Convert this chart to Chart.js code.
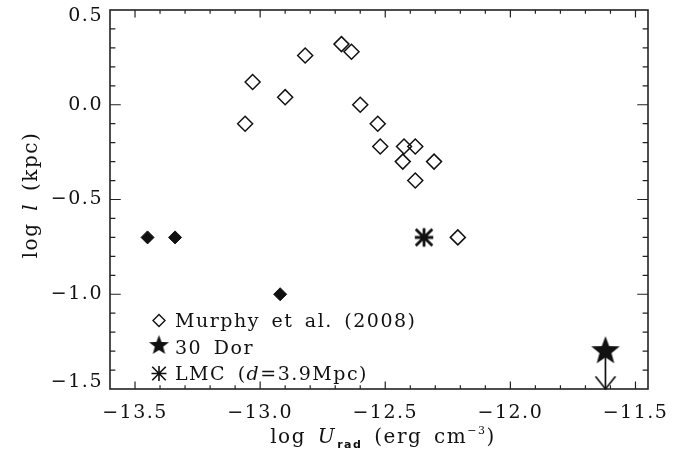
<!DOCTYPE html>
<html>
<head>
<meta charset="utf-8">
<script src="https://cdn.jsdelivr.net/npm/chart.js@4.4.1/dist/chart.umd.min.js"></script>
<style>
html,body{margin:0;padding:0;background:#fff;}
#wrap{width:689px;height:458px;position:relative;}
</style>
</head>
<body>
<div id="wrap"><canvas id="c" width="689" height="458"></canvas></div>
<script>
// ---- data ----
const murphyX = [-13.06, -13.03, -12.90, -12.82, -12.675, -12.635, -12.60, -12.53, -12.52, -12.425, -12.38, -12.43, -12.305, -12.38, -12.21];
const murphyY = [-0.10, 0.12, 0.04, 0.26, 0.32, 0.28, 0.00, -0.10, -0.22, -0.22, -0.22, -0.30, -0.30, -0.40, -0.70];
const filledX = [-13.45, -13.34, -12.92];
const filledY = [-0.70, -0.70, -1.00];
const lmcX = [-12.345];
const lmcY = [-0.70];
const dorX = [-11.62];
const dorY = [-1.30];
const xTicks = [-13.5, -13.0, -12.5, -12.0, -11.5];
const yTicks = [0.5, 0.0, -0.5, -1.0, -1.5];
const xRange = [-13.6, -11.45];
const yRange = [-1.5, 0.5];
const minorStep = 0.1;
const legendLabels = ['Murphy et al. (2008)', '30 Dor', 'LMC (d=3.9Mpc)'];

const SERIF = "'DejaVu Serif', serif";
const INK = '#111';

function pts(xs, ys) { return xs.map((x, i) => ({x: x, y: ys[i]})); }
function fmt(v) { return (v < -1e-9 ? '\u2212' : '') + Math.abs(v).toFixed(1); }

function makeStar(R, ratio) {
  const s = Math.ceil(R * 2 + 4);
  const c = document.createElement('canvas');
  c.width = s; c.height = s;
  const g = c.getContext('2d');
  g.fillStyle = INK;
  g.beginPath();
  for (let i = 0; i < 10; i++) {
    const r = i % 2 === 0 ? R : R * ratio;
    const a = -Math.PI / 2 + i * Math.PI / 5;
    const px = s / 2 + r * Math.cos(a), py = s / 2 + r * Math.sin(a);
    if (i === 0) g.moveTo(px, py); else g.lineTo(px, py);
  }
  g.closePath();
  g.fill();
  return c;
}
function drawAsterisk(g, x, y, r, lw) {
  g.save();
  g.strokeStyle = INK; g.lineWidth = lw; g.lineCap = 'butt';
  const d = r * 0.9;
  g.beginPath();
  g.moveTo(x, y - r); g.lineTo(x, y + r);
  g.moveTo(x - r, y); g.lineTo(x + r, y);
  g.moveTo(x - d, y - d); g.lineTo(x + d, y + d);
  g.moveTo(x + d, y - d); g.lineTo(x - d, y + d);
  g.stroke();
  g.restore();
}
function makeAsterisk(r, lw) {
  const s = Math.ceil(r * 2 + lw + 4);
  const c = document.createElement('canvas');
  c.width = s; c.height = s;
  drawAsterisk(c.getContext('2d'), s / 2, s / 2, r, lw);
  return c;
}
function makeArrowHead(w, h, lw) {
  const s = Math.ceil(Math.max(w, h * 2) + 6);
  const c = document.createElement('canvas');
  c.width = s; c.height = s;
  const g = c.getContext('2d');
  g.strokeStyle = INK; g.lineWidth = lw; g.lineCap = 'round';
  g.beginPath();
  g.moveTo(s / 2 - w / 2, s / 2 - h);
  g.lineTo(s / 2, s / 2);
  g.lineTo(s / 2 + w / 2, s / 2 - h);
  g.stroke();
  return c;
}

const starImg = makeStar(15, 0.42);
const legendStarImg = makeStar(10.5, 0.42);
const asteriskImg = makeAsterisk(9.2, 2.8);
const arrowImg = makeArrowHead(19, 12, 1.7);

function segFont(s) {
  return (s.italic ? 'italic ' : '') + (s.bold ? 'bold ' : '') + (s.size || 20) + 'px ' + (s.family || SERIF);
}
function drawRich(ctx, segs, x, y, align) {
  let w = 0;
  for (const s of segs) { ctx.font = segFont(s); w += ctx.measureText(s.t).width + (s.gap || 0); }
  let cx = align === 'center' ? x - w / 2 : x;
  for (const s of segs) {
    ctx.font = segFont(s);
    ctx.fillText(s.t, cx, y + (s.dy || 0));
    cx += ctx.measureText(s.t).width + (s.gap || 0);
  }
}

const spacing = {
  id: 'spacing',
  beforeUpdate(chart) { chart.ctx.letterSpacing = '1.5px'; chart.ctx.wordSpacing = '4px'; },
  beforeDraw(chart) {
    chart.ctx.letterSpacing = '1.5px'; chart.ctx.wordSpacing = '4px';
    // the extreme y labels sit inside the frame in the reference
    const ys = chart.scales.y;
    const items = ys.getLabelItems(chart.chartArea);
    items.forEach(it => {
      const t = it.options.translation;
      if (it.label === fmt(yRange[1])) t[1] += 6.5;
      if (it.label === fmt(yRange[0])) t[1] -= 6.5;
    });
  }
};

const frameTicks = {
  id: 'frameTicks',
  beforeDatasetsDraw(chart) {
    const {ctx, chartArea: a, scales: {x, y}} = chart;
    ctx.save();
    ctx.strokeStyle = '#222';
    ctx.lineWidth = 1.6;
    ctx.strokeRect(a.left, a.top, a.right - a.left, a.bottom - a.top);
    const w = a.right - a.left, h = a.bottom - a.top;
    const xMaj = h * 0.02, yMaj = w * 0.02;
    ctx.lineWidth = 1.2;
    ctx.beginPath();
    const n = Math.round(1 / minorStep);
    for (let k = Math.ceil(x.min * n - 1e-6); k <= Math.floor(x.max * n + 1e-6); k++) {
      const px = x.getPixelForValue(k / n);
      if (px <= a.left + 1 || px >= a.right - 1) continue;
      const major = xTicks.some(t => Math.abs(t - k / n) < 1e-6);
      const len = major ? xMaj : xMaj / 2;
      ctx.moveTo(px, a.bottom); ctx.lineTo(px, a.bottom - len);
      ctx.moveTo(px, a.top); ctx.lineTo(px, a.top + len);
    }
    for (let k = Math.ceil(y.min * n - 1e-6); k <= Math.floor(y.max * n + 1e-6); k++) {
      const py = y.getPixelForValue(k / n);
      if (py <= a.top + 1 || py >= a.bottom - 1) continue;
      const major = yTicks.some(t => Math.abs(t - k / n) < 1e-6);
      const len = major ? yMaj : yMaj / 2;
      ctx.moveTo(a.left, py); ctx.lineTo(a.left + len, py);
      ctx.moveTo(a.right, py); ctx.lineTo(a.right - len, py);
    }
    ctx.stroke();
    ctx.restore();
  }
};

const textLayer = {
  id: 'textLayer',
  afterDraw(chart) {
    const {ctx, chartArea: a} = chart;
    ctx.save();
    ctx.fillStyle = INK;
    ctx.letterSpacing = '1.5px';
    ctx.wordSpacing = '4px';
    ctx.textBaseline = 'alphabetic';
    ctx.textAlign = 'left';
    // x title
    drawRich(ctx, [
      {t: 'log '}, {t: 'U', italic: true, gap: 1},
      {t: 'rad', size: 11, bold: true, family: "'DejaVu Sans', sans-serif", dy: 5},
      {t: ' (erg cm'}, {t: '\u22123', size: 11, dy: -9}, {t: ')'}
    ], (a.left + a.right) / 2 + 4, 443, 'center');
    // y title
    ctx.save();
    ctx.translate(37, 195);
    ctx.rotate(-Math.PI / 2);
    drawRich(ctx, [{t: 'log '}, {t: 'l', italic: true}, {t: ' (kpc)'}], 0, 0, 'center');
    ctx.restore();
    // legend
    const lx = 159, tx = 175, ls = 19;
    const rows = [327, 353.5, 380];
    ctx.save();
    ctx.strokeStyle = INK; ctx.lineWidth = 1.4;
    ctx.beginPath();
    const dy0 = rows[0] - 6.5, r = 6;
    ctx.moveTo(lx - r, dy0); ctx.lineTo(lx, dy0 - r); ctx.lineTo(lx + r, dy0); ctx.lineTo(lx, dy0 + r); ctx.closePath();
    ctx.stroke();
    ctx.restore();
    ctx.drawImage(legendStarImg, lx - legendStarImg.width / 2, rows[1] - 8 - legendStarImg.height / 2);
    drawAsterisk(ctx, lx, rows[2] - 6.5, 7.5, 1.6);
    drawRich(ctx, [{t: legendLabels[0], size: ls}], tx, rows[0], 'left');
    drawRich(ctx, [{t: legendLabels[1], size: ls}], tx, rows[1], 'left');
    const lmc = legendLabels[2];
    const di = lmc.indexOf('d=');
    drawRich(ctx, [{t: lmc.slice(0, di), size: ls}, {t: 'd', italic: true, size: ls}, {t: lmc.slice(di + 1), size: ls}], tx, rows[2], 'left');
    ctx.restore();
  }
};

const tickFont = {family: SERIF, size: 19};
function noPad(s) { s.paddingTop = 0; s.paddingBottom = 0; s.paddingLeft = 0; s.paddingRight = 0; }

new Chart(document.getElementById('c'), {
  type: 'scatter',
  data: {
    datasets: [
      { label: legendLabels[1], data: pts(dorX, dorY), pointStyle: starImg, pointRadius: 10, clip: false },
      {
        label: 'limit',
        data: [{x: dorX[0], y: dorY[0]}, {x: dorX[0], y: yRange[0]}],
        showLine: true, borderColor: INK, borderWidth: 1.7,
        pointStyle: c => c.dataIndex === 1 ? arrowImg : 'circle',
        pointRadius: c => c.dataIndex === 1 ? 10 : 0,
        clip: false
      },
      { label: legendLabels[2], data: pts(lmcX, lmcY), pointStyle: asteriskImg, pointRadius: 10, clip: false },
      {
        label: legendLabels[0], data: pts(murphyX, murphyY),
        pointStyle: 'rectRot', pointRadius: 7.5,
        borderColor: INK, borderWidth: 1.5, backgroundColor: 'rgba(255,255,255,0)', clip: false
      },
      {
        label: 'filled', data: pts(filledX, filledY),
        pointStyle: 'rectRot', pointRadius: 6.5,
        borderColor: INK, borderWidth: 1, backgroundColor: INK, clip: false
      }
    ]
  },
  options: {
    responsive: false,
    animation: false,
    events: [],
    layout: {autoPadding: false, padding: {left: 0, right: 41, top: 10, bottom: 0}},
    plugins: {legend: {display: false}, tooltip: {enabled: false}, title: {display: false}},
    scales: {
      x: {
        type: 'linear', min: xRange[0], max: xRange[1],
        afterBuildTicks: s => { s.ticks = xTicks.map(v => ({value: v})); },
        afterFit: s => { s.height = 69; noPad(s); },
        grid: {display: false, drawTicks: false},
        border: {display: false},
        ticks: {padding: 13, color: INK, font: tickFont, maxRotation: 0, autoSkip: false, callback: v => fmt(v)}
      },
      y: {
        type: 'linear', min: yRange[0], max: yRange[1],
        afterBuildTicks: s => { s.ticks = yTicks.map(v => ({value: v})); },
        afterFit: s => { s.width = 110; noPad(s); },
        grid: {display: false, drawTicks: false},
        border: {display: false},
        ticks: {padding: 7, color: INK, font: tickFont, autoSkip: false, callback: v => fmt(v)}
      }
    }
  },
  plugins: [spacing, frameTicks, textLayer]
});
</script>
</body>
</html>
